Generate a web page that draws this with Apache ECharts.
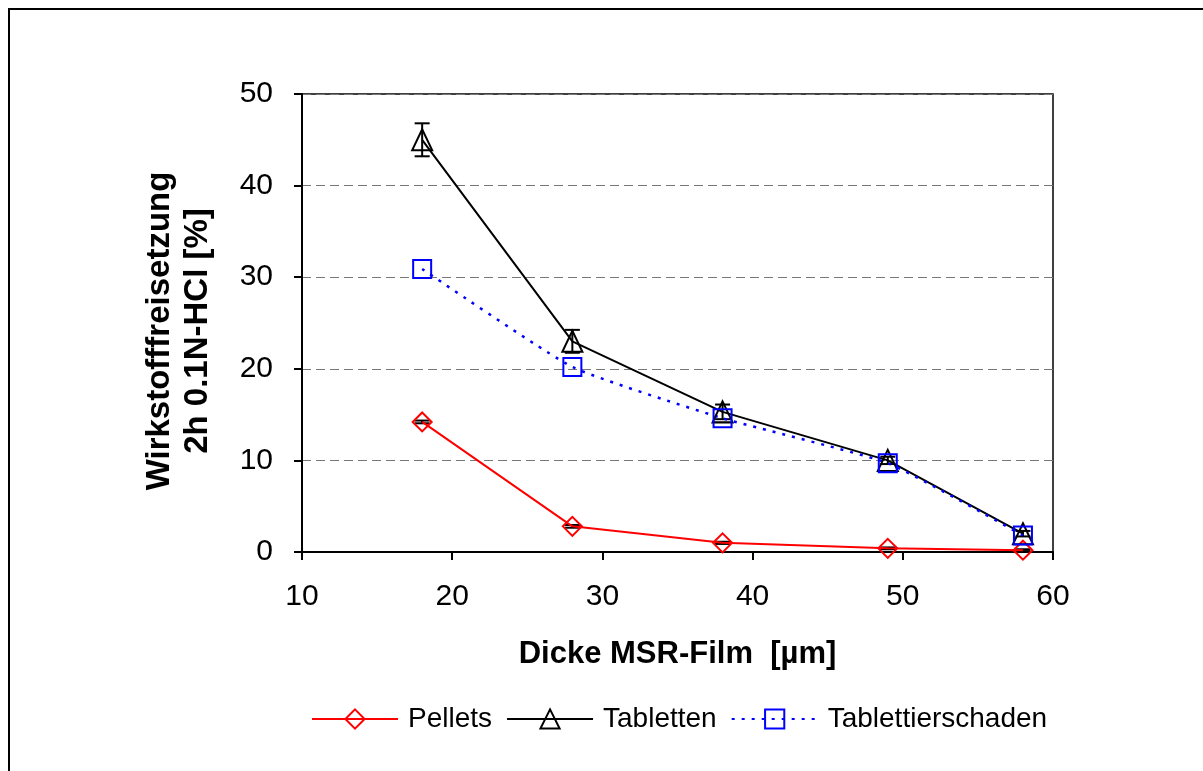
<!DOCTYPE html>
<html>
<head>
<meta charset="utf-8">
<script src="https://cdn.jsdelivr.net/npm/echarts@6/dist/echarts.min.js"></script>
<style>
  html, body { margin: 0; padding: 0; background: #fff; }
  #chart { width: 1203px; height: 771px; }
</style>
</head>
<body>
<div id="chart"></div>
<script>
// Film thickness [µm]
const thickness = [18, 28, 38, 49, 58];
// Drug release after 2 h in 0.1N HCl [%]
const pellets = [14.2, 2.8, 1.0, 0.4, 0.2];
const pelletsErr = [0.15, 0.15, 0.12, 0.1, 0.1];
const tabletten = [45.0, 23.0, 15.3, 10.0, 2.0];
const tablettenErr = [1.8, 1.25, 0.8, 0.4, 0.3];
const schaden = [30.9, 20.2, 14.6, 9.7, 1.8];
const yTicks = [0, 10, 20, 30, 40, 50];
const xTicks = [10, 20, 30, 40, 50, 60];

const FONT = 'Liberation Sans, Arial, sans-serif';

function pairs(xs, ys) { return xs.map((x, i) => [x, ys[i]]); }

// vertical error bars with caps, placed through the chart's own coordinate system
function errorSeries(ys, errs) {
  return {
    type: 'custom',
    silent: true,
    z: 3,
    data: thickness.map((x, i) => [x, ys[i], errs[i]]),
    renderItem: function (params, api) {
      const x = api.value(0), y = api.value(1), e = api.value(2);
      const hi = api.coord([x, y + e]);
      const lo = api.coord([x, y - e]);
      const cap = 7.5;
      const st = { stroke: '#000', lineWidth: 2 };
      return {
        type: 'group',
        children: [
          { type: 'line', shape: { x1: hi[0], y1: hi[1], x2: lo[0], y2: lo[1] }, style: st },
          { type: 'line', shape: { x1: hi[0] - cap, y1: hi[1], x2: hi[0] + cap, y2: hi[1] }, style: st },
          { type: 'line', shape: { x1: lo[0] - cap, y1: lo[1], x2: lo[0] + cap, y2: lo[1] }, style: st }
        ]
      };
    }
  };
}

const chart = echarts.init(document.getElementById('chart'), null, { renderer: 'canvas' });
chart.setOption({
  animation: false,
  backgroundColor: '#fff',
  textStyle: { fontFamily: FONT },
  graphic: [{
    type: 'rect',
    shape: { x: 9, y: 9, width: 1400, height: 1000 },
    style: { fill: 'none', stroke: '#000', lineWidth: 2 },
    z: 0
  }],
  grid: {
    left: 302, top: 94, right: 150, bottom: 219,
    show: true, borderColor: '#000', borderWidth: 1.5, backgroundColor: 'transparent'
  },
  legend: {
    data: ['Pellets', 'Tabletten', 'Tablettierschaden'],
    left: 306, top: 700,
    itemWidth: 86, itemHeight: 24, itemGap: 14,
    textStyle: { fontFamily: FONT, fontSize: 28, color: '#000', padding: [0, 0, 0, 5] }
  },
  xAxis: {
    type: 'value',
    min: 10, max: 60, interval: 10,
    name: 'Dicke MSR-Film  [µm]',
    nameLocation: 'middle', nameGap: 87,
    nameTextStyle: { fontFamily: FONT, fontSize: 31, fontWeight: 'bold', color: '#000' },
    axisLine: { lineStyle: { color: '#000', width: 2 } },
    axisTick: { show: true, inside: false, length: 8, lineStyle: { color: '#000', width: 2 } },
    axisLabel: {
      margin: 30, fontFamily: FONT, fontSize: 30, color: '#000',
      formatter: v => xTicks.includes(v) ? String(v) : ''
    },
    splitLine: { show: false }
  },
  yAxis: {
    type: 'value',
    min: 0, max: 50, interval: 10,
    name: 'Wirkstofffreisetzung\n2h 0.1N-HCl [%]',
    nameLocation: 'middle', nameGap: 85,
    nameTextStyle: {
      fontFamily: FONT, fontSize: 33, fontWeight: 'bold', color: '#000',
      lineHeight: 38, padding: [0, 16, 0, 0]
    },
    axisLine: { lineStyle: { color: '#000', width: 2 } },
    axisTick: { show: true, inside: false, length: 8, lineStyle: { color: '#000', width: 2 } },
    axisLabel: {
      margin: 29, fontFamily: FONT, fontSize: 30, color: '#000',
      formatter: v => yTicks.includes(v) ? String(v) : ''
    },
    splitLine: { show: true, lineStyle: { color: '#777', width: 1, type: [9, 5] } }
  },
  series: [
    {
      name: 'Pellets', type: 'line', z: 4,
      data: pairs(thickness, pellets),
      symbol: 'diamond', symbolSize: [19, 19],
      color: '#ff0000',
      lineStyle: { color: '#ff0000', width: 2 },
      itemStyle: { color: 'rgba(255,255,255,0)', borderColor: '#ff0000', borderWidth: 2 }
    },
    {
      name: 'Tabletten', type: 'line', z: 4,
      data: pairs(thickness, tabletten),
      symbol: 'triangle', symbolSize: [20, 21],
      color: '#000',
      lineStyle: { color: '#000', width: 2 },
      itemStyle: { color: 'rgba(255,255,255,0)', borderColor: '#000', borderWidth: 2 }
    },
    {
      name: 'Tablettierschaden', type: 'line', z: 4,
      data: pairs(thickness, schaden),
      smooth: 0.15,
      symbol: 'rect', symbolSize: [18, 18],
      color: '#0000ff',
      lineStyle: { color: '#0000ff', width: 2.5, type: [3, 7] },
      itemStyle: { color: 'rgba(255,255,255,0)', borderColor: '#0000ff', borderWidth: 2 }
    },
    errorSeries(tabletten, tablettenErr),
    errorSeries(pellets, pelletsErr)
  ]
});
</script>
</body>
</html>
